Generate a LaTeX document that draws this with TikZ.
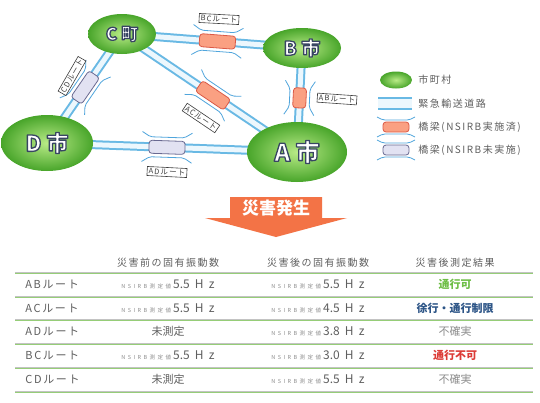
\documentclass[tikz,border=0pt]{standalone}
\usepackage{fontspec}
\setmainfont{Noto Sans CJK JP}
\newfontfamily\spfont[LetterSpace=15]{Noto Sans CJK JP}
\newfontfamily\hzfont[LetterSpace=45]{Noto Sans CJK JP}
\usetikzlibrary{shapes.geometric,calc,backgrounds}

\definecolor{roadblue}{RGB}{105,185,228}
\definecolor{roadpale}{RGB}{236,247,253}
\definecolor{railblue}{RGB}{80,165,220}
\definecolor{cityedge}{RGB}{72,165,42}
\definecolor{citycore}{RGB}{185,235,135}
\definecolor{donefill}{RGB}{250,160,130}
\definecolor{donedraw}{RGB}{220,90,70}
\definecolor{todofill}{RGB}{226,226,242}
\definecolor{tododraw}{RGB}{105,105,145}
\definecolor{taggray}{RGB}{60,60,60}
\definecolor{textgray}{RGB}{95,95,95}
\definecolor{palegray}{RGB}{140,140,140}
\definecolor{rulegreen}{RGB}{150,205,120}
\definecolor{rulegray}{RGB}{195,195,195}
\definecolor{alertorange}{RGB}{243,115,70}
\definecolor{okgreen}{RGB}{110,190,70}
\definecolor{slowblue}{RGB}{45,85,135}
\definecolor{stopred}{RGB}{220,60,55}

% white letters with a dark rim (fill and stroke render mode)
\newcommand{\rimmed}[1]{\special{pdf:literal direct 2 Tr 1.3 w 1 j 0.22 0.27 0.39 RG}#1\special{pdf:literal direct 0 Tr}}
\newcommand{\measured}[1]{{\color{palegray}\hzfont\fontsize{5.5}{5.5}\selectfont NSIRB測定値}\hspace{2pt}{\fontsize{12}{12}\selectfont #1\hspace{5pt}{\hzfont Hz}}}

\tikzset{every picture/.style={line width=0.75pt}}
\tikzset{
  town/.style={ellipse, inner color=citycore, outer color=cityedge, text=white, inner sep=0pt},
  road/.style={draw=roadblue, line width=9pt},
  roadcore/.style={draw=roadpale, line width=5pt},
  rail/.style={draw=railblue, line width=0.8pt, rounded corners=2pt},
  bridge/.style={rectangle, rounded corners=3pt, minimum height=13, line width=0.8pt, transform shape, inner sep=0pt},
  bridgedone/.style={fill=donefill, draw=donedraw},
  bridgetodo/.style={fill=todofill, draw=tododraw},
  tag/.style={draw=taggray, fill=white, line width=0.6pt, inner sep=1.5pt, text=taggray, font=\spfont\fontsize{7.5}{7.5}\selectfont},
  legend/.style={anchor=west, text=textgray, inner sep=0pt, font=\spfont\fontsize{10}{10}\selectfont},
  head/.style={text=textgray, font=\spfont\fontsize{10}{10}\selectfont},
  rowname/.style={anchor=west, inner sep=0pt, text=textgray, font=\spfont\fontsize{11}{11}\selectfont},
  cell/.style={text=textgray, font=\fontsize{11}{11}\selectfont},
  resok/.style={text=okgreen, font=\bfseries\fontsize{11}{11}\selectfont},
  resslow/.style={text=slowblue, font=\bfseries\fontsize{11}{11}\selectfont},
  resstop/.style={text=stopred, font=\bfseries\fontsize{11}{11}\selectfont},
  resunknown/.style={text=palegray, font=\fontsize{11}{11}\selectfont},
}

\begin{document}
\begin{tikzpicture}[x=1pt,y=1pt,yscale=-1]
\useasboundingbox (0,0) rectangle (540,402);

% towns
\node[town, minimum width=68, minimum height=40, font=\bfseries\fontsize{17}{17}\selectfont] (C) at (122,34) {\rimmed{C 町}};
\node[town, minimum width=78, minimum height=40, font=\bfseries\fontsize{19}{19}\selectfont] (B) at (302,48) {\rimmed{B 市}};
\node[town, minimum width=92, minimum height=56, font=\bfseries\fontsize{22}{22}\selectfont] (D) at (47,143) {\rimmed{D 市}};
\node[town, minimum width=100, minimum height=60, font=\bfseries\fontsize{24}{24}\selectfont] (A) at (297,152) {\rimmed{A 市}};

% roads
\begin{scope}[on background layer]
  \fill[white] (0,0) rectangle (540,402);
  \foreach \s/\t in {C/B, C/A, B/A, D/C, D/A}
  {
    \draw[road] (\s.center) -- (\t.center);
    \draw[roadcore] (\s.center) -- (\t.center);
  }
\end{scope}

% bridges
\foreach \s/\t/\p/\a/\l/\k in {C/B/0.53/4.4/18/bridgedone, C/A/0.52/34/17/bridgedone, B/A/0.48/92.7/10/bridgedone, D/C/0.51/-55.5/16/bridgetodo, D/A/0.48/2/18/bridgetodo}
{
  \begin{scope}[shift={($(\s)!\p!(\t)$)}, rotate=\a]
    \draw[rail] (-\l-7,-15) -- (-\l+1,-10) -- (\l-1,-10) -- (\l+7,-15);
    \draw[rail] (-\l-7,15) -- (-\l+1,10) -- (\l-1,10) -- (\l+7,15);
    \node[bridge, \k, minimum width=2*\l] (br\s\t) at (0,0) {};
  \end{scope}
}

% route tags
\node[tag, rotate=-3] (bctag) at (219,19) {BCルート};
\node[tag, rotate=-34] (actag) at (201,118) {ACルート};
\node[tag, rotate=-4] (abtag) at (337,99) {ABルート};
\node[tag, rotate=60] (cdtag) at (72,76) {CDルート};
\node[tag, rotate=-3] (adtag) at (167,172) {ADルート};

% legend
\node[town, minimum width=32, minimum height=17] (lgtown) at (396,80) {};
\node[legend] (lgtowntxt) at (418,80) {市町村};
\fill[roadpale] (378,98) rectangle (412,109);
\draw[roadblue, line width=2pt] (378,98) -- (412,98);
\draw[roadblue, line width=2pt] (378,109) -- (412,109);
\node[legend] (lgroadtxt) at (418,103.5) {緊急輸送道路};
\foreach \y/\k/\txt in {127/bridgedone/橋梁(NSIRB実施済), 150/bridgetodo/橋梁(NSIRB未実施)}
{
  \begin{scope}[shift={(396,\y)}]
    \draw[rail] (-19,-10) -- (-13,-7) -- (13,-7) -- (19,-10);
    \draw[rail] (-19,10) -- (-13,7) -- (13,7) -- (19,10);
    \node[bridge, \k, minimum width=26, minimum height=10] (lg\k) at (0,0) {};
  \end{scope}
  \node[legend] (lg\k txt) at (418,\y) {\txt};
}

% disaster arrow
\fill[alertorange] (230,197) -- (322,197) -- (322,218) -- (347,218) -- (276,237) -- (205,218) -- (230,218) -- cycle;
\node[text=white, font=\bfseries\fontsize{17}{17}\selectfont] (alert) at (276,208) {災害発生};

% table
\node[head] (h2) at (168,263) {災害前の固有振動数};
\node[head] (h3) at (318,263) {災害後の固有振動数};
\node[head] (h4) at (455,263) {災害後測定結果};
\foreach \y in {272,296,319,343,367,391}
{
  \draw[rulegray, line width=1pt] (15,\y) -- (533,\y);
  \draw[rulegreen, line width=1pt] (15,\y+1) -- (533,\y+1);
}
\foreach \rt/\y/\b/\a/\r/\k in {AB/284.5/\measured{5.5}/\measured{5.5}/通行可/resok, AC/308/\measured{5.5}/\measured{4.5}/徐行・通行制限/resslow, AD/331.5/未測定/\measured{3.8}/不確実/resunknown, BC/355.5/\measured{5.5}/\measured{3.0}/通行不可/resstop, CD/379.5/未測定/\measured{5.5}/不確実/resunknown}
{
  \node[rowname] (n\rt) at (25,\y) {\rt{}ルート};
  \node[cell] (b\rt) at (168,\y) {\b};
  \node[cell] (a\rt) at (318,\y) {\a};
  \node[\k] (r\rt) at (455,\y) {\r};
}
\end{tikzpicture}
\end{document}
